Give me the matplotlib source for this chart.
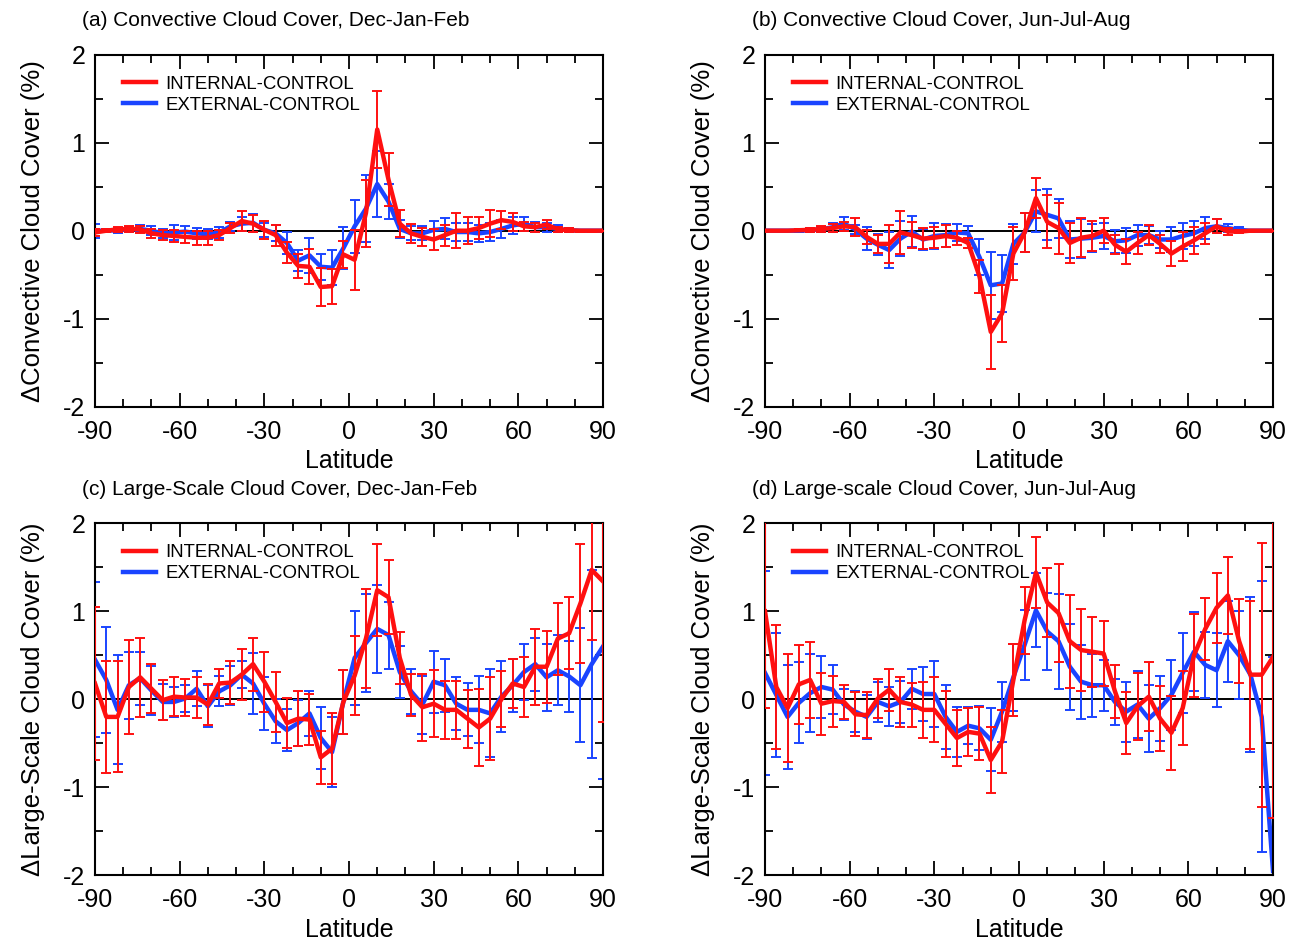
import numpy as np
import matplotlib
matplotlib.use("Agg")
import matplotlib.pyplot as plt
from matplotlib.ticker import MultipleLocator

plt.rcParams['font.family'] = ['Liberation Sans', 'DejaVu Sans']
plt.rcParams['axes.unicode_minus'] = False

# Latitude bands (degrees)
lat = [-90, -86, -82, -78, -74, -70, -66, -62, -58, -54, -50, -46, -42, -38, -34, -30,
       -26, -22, -18, -14, -10, -6, -2, 2, 6, 10, 14, 18, 22, 26, 30, 34, 38, 42, 46,
       50, 54, 58, 62, 66, 70, 74, 78, 82, 86, 90]

series_names = ["INTERNAL-CONTROL", "EXTERNAL-CONTROL"]

# (a) Convective cloud cover, DJF
conv_djf_int = [-0.02, 0.0, 0.015, 0.02, 0.015, -0.03, -0.05, -0.06, -0.07, -0.08, -0.08, -0.05,
                0.03, 0.11, 0.08, 0.01, -0.05, -0.25, -0.40, -0.41, -0.64, -0.63, -0.27, -0.33,
                0.20, 1.15, 0.58, 0.08, -0.03, -0.07, -0.10, -0.05, 0.0, 0.0, 0.03, 0.08, 0.12,
                0.10, 0.05, 0.04, 0.07, 0.015, 0.005, 0.0, 0.0, 0.0]
conv_djf_int_err = [0.04, 0.02, 0.03, 0.03, 0.04, 0.05, 0.06, 0.07, 0.07, 0.08, 0.08, 0.06,
                    0.06, 0.11, 0.10, 0.10, 0.12, 0.12, 0.14, 0.20, 0.22, 0.20, 0.15, 0.34,
                    0.38, 0.44, 0.30, 0.15, 0.11, 0.10, 0.12, 0.12, 0.20, 0.15, 0.12, 0.15,
                    0.10, 0.10, 0.05, 0.05, 0.05, 0.03, 0.02, 0.01, 0.01, 0.0]
conv_djf_ext = [0.0, 0.0, 0.005, 0.015, 0.02, 0.0, -0.03, -0.02, -0.01, -0.03, -0.04, -0.02,
                0.05, 0.08, 0.09, 0.01, -0.03, -0.14, -0.34, -0.28, -0.41, -0.42, -0.20, 0.05,
                0.25, 0.53, 0.33, 0.02, -0.03, -0.03, 0.01, 0.02, -0.015, -0.015, -0.03, -0.015,
                0.02, 0.06, 0.08, 0.04, 0.04, 0.02, 0.005, 0.0, 0.0, 0.0]
conv_djf_ext_err = [0.08, 0.02, 0.03, 0.03, 0.04, 0.05, 0.05, 0.09, 0.06, 0.06, 0.06, 0.06,
                    0.05, 0.08, 0.10, 0.08, 0.09, 0.12, 0.12, 0.20, 0.15, 0.20, 0.24, 0.30,
                    0.38, 0.37, 0.20, 0.10, 0.08, 0.08, 0.10, 0.12, 0.10, 0.10, 0.10, 0.10,
                    0.10, 0.10, 0.08, 0.06, 0.05, 0.04, 0.02, 0.01, 0.01, 0.0]

# (b) Convective cloud cover, JJA
conv_jja_int = [0.0, 0.0, 0.0, 0.005, 0.01, 0.02, 0.03, 0.05, 0.04, -0.07, -0.15, -0.15,
                -0.02, -0.05, -0.09, -0.08, -0.06, -0.08, -0.14, -0.52, -1.15, -0.94, -0.26,
                -0.02, 0.37, 0.10, 0.03, -0.14, -0.08, -0.06, 0.0, -0.16, -0.24, -0.14, -0.05,
                -0.15, -0.26, -0.18, -0.11, -0.03, 0.05, -0.01, -0.01, 0.0, 0.0, 0.0]
conv_jja_int_err = [0.0, 0.0, 0.0, 0.01, 0.02, 0.03, 0.05, 0.05, 0.10, 0.08, 0.10, 0.22,
                    0.24, 0.15, 0.12, 0.12, 0.12, 0.08, 0.06, 0.19, 0.42, 0.32, 0.30, 0.22,
                    0.23, 0.30, 0.29, 0.23, 0.22, 0.17, 0.14, 0.11, 0.14, 0.12, 0.11, 0.10,
                    0.14, 0.16, 0.15, 0.12, 0.08, 0.04, 0.02, 0.01, 0.0, 0.0]
conv_jja_ext = [0.0, 0.0, 0.0, 0.0, 0.005, 0.015, 0.04, 0.08, 0.015, -0.09, -0.16, -0.22,
                -0.09, -0.01, -0.10, -0.06, -0.05, -0.02, -0.03, -0.30, -0.62, -0.60, -0.15,
                -0.02, 0.22, 0.18, 0.14, -0.10, -0.09, -0.08, -0.06, -0.12, -0.11, -0.05,
                -0.05, -0.10, -0.10, -0.06, -0.03, 0.03, 0.05, 0.03, 0.01, 0.0, 0.0, 0.0]
conv_jja_ext_err = [0.0, 0.0, 0.0, 0.01, 0.02, 0.03, 0.05, 0.07, 0.05, 0.13, 0.12, 0.20,
                    0.20, 0.18, 0.12, 0.15, 0.13, 0.10, 0.08, 0.20, 0.38, 0.32, 0.23, 0.22,
                    0.24, 0.29, 0.22, 0.21, 0.22, 0.16, 0.15, 0.13, 0.14, 0.12, 0.10, 0.10,
                    0.14, 0.15, 0.14, 0.12, 0.08, 0.05, 0.03, 0.01, 0.0, 0.0]

# (c) Large-scale cloud cover, DJF
ls_djf_int = [0.18, -0.20, -0.20, 0.14, 0.25, 0.12, -0.01, 0.03, 0.02, 0.02, -0.06, 0.18,
              0.19, 0.28, 0.40, 0.20, -0.03, -0.27, -0.22, -0.23, -0.66, -0.56, -0.03, 0.27,
              0.69, 1.24, 1.16, 0.47, 0.05, -0.09, -0.05, -0.12, -0.12, -0.22, -0.32, -0.22,
              0.0, 0.18, 0.14, 0.37, 0.37, 0.69, 0.75, 1.09, 1.47, 1.34]
ls_djf_int_err = [0.87, 0.64, 0.63, 0.53, 0.45, 0.28, 0.23, 0.22, 0.21, 0.23, 0.23, 0.17,
                  0.24, 0.29, 0.30, 0.34, 0.34, 0.28, 0.31, 0.29, 0.30, 0.40, 0.36, 0.45,
                  0.56, 0.52, 0.42, 0.30, 0.24, 0.38, 0.38, 0.33, 0.33, 0.33, 0.44, 0.47,
                  0.32, 0.28, 0.34, 0.43, 0.41, 0.41, 0.41, 0.68, 0.80, 1.60]
ls_djf_ext = [0.45, 0.22, -0.12, 0.16, 0.24, 0.10, -0.03, -0.03, 0.01, 0.12, -0.08, 0.09,
              0.16, 0.28, 0.18, -0.05, -0.25, -0.35, -0.27, -0.16, -0.44, -0.60, -0.03, 0.47,
              0.64, 0.80, 0.73, 0.31, 0.09, -0.06, 0.20, 0.16, -0.05, -0.12, -0.12, -0.16,
              0.03, 0.16, 0.31, 0.40, 0.25, 0.33, 0.26, 0.16, 0.40, 0.60]
ls_djf_ext_err = [0.88, 0.60, 0.62, 0.38, 0.30, 0.28, 0.20, 0.17, 0.15, 0.20, 0.24, 0.17,
                  0.22, 0.15, 0.35, 0.30, 0.25, 0.24, 0.26, 0.26, 0.35, 0.40, 0.36, 0.53,
                  0.56, 0.50, 0.38, 0.30, 0.26, 0.33, 0.35, 0.30, 0.30, 0.30, 0.38, 0.50,
                  0.40, 0.30, 0.32, 0.30, 0.38, 0.40, 0.40, 0.65, 1.07, 1.50]

# (d) Large-scale cloud cover, JJA
ls_jja_int = [1.0, 0.14, -0.10, 0.17, 0.22, -0.05, -0.02, -0.03, -0.17, -0.18, 0.01, 0.11,
              -0.03, -0.06, -0.12, -0.12, -0.28, -0.44, -0.37, -0.39, -0.69, -0.48, 0.22, 0.90,
              1.44, 1.10, 0.98, 0.66, 0.56, 0.54, 0.52, 0.09, -0.27, -0.08, 0.03, -0.22, -0.38,
              -0.10, 0.50, 0.80, 1.04, 1.18, 0.66, 0.28, 0.28, 0.48]
ls_jja_int_err = [1.10, 0.71, 0.61, 0.45, 0.43, 0.35, 0.29, 0.19, 0.25, 0.26, 0.22, 0.24,
                  0.28, 0.25, 0.32, 0.37, 0.38, 0.32, 0.27, 0.30, 0.38, 0.36, 0.41, 0.38,
                  0.40, 0.39, 0.56, 0.53, 0.47, 0.40, 0.37, 0.30, 0.35, 0.38, 0.39, 0.37,
                  0.42, 0.42, 0.47, 0.35, 0.40, 0.44, 0.48, 0.84, 1.50, 1.83]
ls_jja_ext = [0.30, 0.05, -0.20, -0.04, 0.07, 0.14, 0.11, -0.06, -0.14, -0.20, -0.03, -0.08,
              -0.03, 0.12, 0.06, 0.06, -0.20, -0.37, -0.30, -0.33, -0.46, -0.14, 0.25, 0.62,
              1.01, 0.77, 0.66, 0.37, 0.20, 0.16, 0.16, -0.03, -0.14, -0.06, -0.22, -0.10,
              0.05, 0.30, 0.54, 0.39, 0.33, 0.66, 0.50, 0.28, -0.20, -1.95]
ls_jja_ext_err = [1.16, 0.70, 0.59, 0.46, 0.44, 0.35, 0.28, 0.18, 0.23, 0.25, 0.23, 0.22,
                  0.24, 0.23, 0.31, 0.38, 0.36, 0.28, 0.21, 0.25, 0.36, 0.34, 0.38, 0.40,
                  0.42, 0.44, 0.54, 0.49, 0.42, 0.36, 0.29, 0.26, 0.34, 0.38, 0.38, 0.37,
                  0.40, 0.45, 0.45, 0.37, 0.42, 0.46, 0.50, 0.88, 1.54, 2.43]

x_ticks = [-90, -60, -30, 0, 30, 60, 90]
y_ticks = [-2, -1, 0, 1, 2]

RED = '#ff1010'
BLUE = '#1a44ff'

panels = [
    dict(title="(a) Convective Cloud Cover, Dec-Jan-Feb",
         ylabel="\u0394Convective Cloud Cover (%)",
         data=(conv_djf_int, conv_djf_int_err, conv_djf_ext, conv_djf_ext_err),
         pos=[95, 54.7]),
    dict(title="(b) Convective Cloud Cover, Jun-Jul-Aug",
         ylabel="\u0394Convective Cloud Cover (%)",
         data=(conv_jja_int, conv_jja_int_err, conv_jja_ext, conv_jja_ext_err),
         pos=[765, 54.7]),
    dict(title="(c) Large-Scale Cloud Cover, Dec-Jan-Feb",
         ylabel="\u0394Large-Scale Cloud Cover (%)",
         data=(ls_djf_int, ls_djf_int_err, ls_djf_ext, ls_djf_ext_err),
         pos=[95, 523.3]),
    dict(title="(d) Large-scale Cloud Cover, Jun-Jul-Aug",
         ylabel="\u0394Large-Scale Cloud Cover (%)",
         data=(ls_jja_int, ls_jja_int_err, ls_jja_ext, ls_jja_ext_err),
         pos=[765, 523.3]),
]

W, H = 1290, 941
fig = plt.figure(figsize=(W / 100, H / 100), dpi=100)
ax_w, ax_h = 508, 352

for p in panels:
    x0, y0 = p['pos']
    ax = fig.add_axes([x0 / W, 1 - (y0 + ax_h) / H, ax_w / W, ax_h / H])
    vi, ei, ve, ee = p['data']

    ax.axhline(0, color='black', lw=1.4, zorder=1)
    ax.errorbar(lat, ve, yerr=ee, color=BLUE, lw=3.2, elinewidth=1.4,
                capsize=3.8, capthick=1.4, zorder=2, label=series_names[1])
    ax.errorbar(lat, vi, yerr=ei, color=RED, lw=3.2, elinewidth=1.4,
                capsize=3.8, capthick=1.4, zorder=3, label=series_names[0])

    ax.set_xlim(-90, 90)
    ax.set_ylim(-2, 2)
    ax.set_xticks(x_ticks)
    ax.set_xticklabels([str(t) for t in x_ticks])
    ax.set_yticks(y_ticks)
    ax.set_yticklabels([str(t) for t in y_ticks])
    ax.xaxis.set_minor_locator(MultipleLocator(10))
    ax.yaxis.set_minor_locator(MultipleLocator(0.5))
    ax.tick_params(which='both', direction='in', top=True, right=True,
                   width=1.3, labelsize=18)
    ax.tick_params(which='major', length=10)
    ax.tick_params(axis='x', which='major', pad=9.5)
    ax.tick_params(axis='y', which='major', pad=7)
    ax.tick_params(which='minor', length=6)
    for s in ax.spines.values():
        s.set_linewidth(1.5)

    ax.set_xlabel("Latitude", fontsize=18, labelpad=4)
    ax.set_ylabel(p['ylabel'], fontsize=18.5, labelpad=13)

    handles, labels = ax.get_legend_handles_labels()
    order = [1, 0]
    ax.legend([handles[i][0] for i in order], [labels[i] for i in order],
              loc='upper left', bbox_to_anchor=(0.055, 0.94), frameon=False,
              fontsize=13.4, handlelength=1.75, handletextpad=0.55,
              labelspacing=0.2, borderpad=0, borderaxespad=0)

    fig.text((x0 - 13) / W, 1 - (y0 - 34) / H, p['title'], fontsize=15,
             ha='left', va='center')

fig.savefig("out.png", dpi=100)
